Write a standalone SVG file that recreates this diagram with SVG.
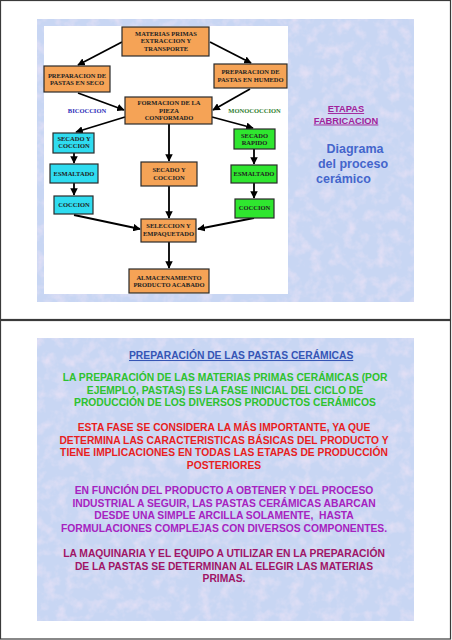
<svg xmlns="http://www.w3.org/2000/svg" width="452" height="640" viewBox="0 0 452 640">
<style>
.frame{fill:#fff;stroke:#3a3a3a;stroke-width:1.2}
.bg{fill:#c8d6f3}
.box{stroke:#2a2a2a;stroke-width:1.2}
.or{fill:#f5a356}
.cy{fill:#2fdcf0}
.gr{fill:#2fe62f}
.nt{font-family:"Liberation Serif","Times New Roman",serif;font-weight:bold;font-size:6.5px;fill:#222;text-anchor:middle}
.edge{stroke:#000;stroke-width:1.8;fill:none;marker-end:url(#ah)}
.sans{font-family:"Liberation Sans",Arial,sans-serif;font-weight:bold}
.p{font-size:10.3px;text-anchor:middle}
</style>
<defs>
<marker id="ah" viewBox="0 0 10 10" refX="9" refY="5" markerWidth="4.2" markerHeight="4.2" orient="auto" markerUnits="strokeWidth">
<path d="M0,0 L10,5 L0,10 z" fill="#000"/>
</marker>
<filter id="tex" x="0" y="0" width="1" height="1">
<feTurbulence type="fractalNoise" baseFrequency="0.09" numOctaves="3" seed="4" result="n"/>
<feColorMatrix in="n" type="matrix" values="0 0 0 0 0.93  0 0 0 0 0.80  0 0 0 0 0.93  0 0 0 -2.2 1.25" result="c"/>
<feComposite in="c" in2="SourceGraphic" operator="in"/>
</filter>
</defs>

<g id="page1">
<rect class="frame" x="0.5" y="0.5" width="450" height="319"/>
<rect class="bg" x="37" y="19" width="377" height="283"/>
<rect x="37" y="19" width="377" height="283" fill="#fff" filter="url(#tex)" opacity="0.55"/>
<rect x="44" y="26" width="244" height="268" fill="#fff"/>
</g>

<g id="page2">
<rect class="frame" x="0.5" y="320.5" width="450" height="318.5"/>
<rect class="bg" x="37" y="338" width="377" height="283"/>
<rect x="37" y="338" width="377" height="283" fill="#fff" filter="url(#tex)" opacity="0.55"/>
</g>

<g id="connectors">
<line class="edge" x1="122" y1="42" x2="78" y2="65"/>
<line class="edge" x1="210" y1="42" x2="251" y2="63"/>
<line class="edge" x1="78" y1="93" x2="124" y2="110"/>
<line class="edge" x1="250" y1="89" x2="213" y2="110"/>
<line class="edge" x1="125" y1="117" x2="76" y2="132"/>
<line class="edge" x1="212" y1="117" x2="253" y2="128"/>
<line class="edge" x1="169" y1="124" x2="169" y2="161"/>
<line class="edge" x1="74" y1="153" x2="74" y2="163"/>
<line class="edge" x1="74" y1="183" x2="74" y2="195"/>
<line class="edge" x1="74" y1="215" x2="140" y2="229"/>
<line class="edge" x1="169" y1="186" x2="169" y2="218"/>
<line class="edge" x1="254" y1="149" x2="254" y2="164"/>
<line class="edge" x1="254" y1="183" x2="254" y2="198"/>
<line class="edge" x1="254" y1="218" x2="198" y2="229"/>
<line class="edge" x1="169" y1="242" x2="169" y2="268"/>
</g>

<g id="n-materias">
<rect class="box or" x="122" y="27" width="87" height="29"/>
<text class="nt" x="166" y="35.5">MATERIAS PRIMAS</text>
<text class="nt" x="166" y="43.3">EXTRACCION Y</text>
<text class="nt" x="166" y="50.8">TRANSPORTE</text>
</g>
<g id="n-seco">
<rect class="box or" x="44" y="66" width="66" height="26"/>
<text class="nt" x="77" y="77.5">PREPARACION DE</text>
<text class="nt" x="77" y="85">PASTAS EN SECO</text>
</g>
<g id="n-humedo">
<rect class="box or" x="214" y="64" width="73" height="24"/>
<text class="nt" x="250.5" y="74">PREPARACION DE</text>
<text class="nt" x="250.5" y="81.5">PASTAS EN HUMEDO</text>
</g>
<g id="n-formacion">
<rect class="box or" x="125" y="97" width="87" height="27"/>
<text class="nt" x="169" y="104.5">FORMACION DE LA</text>
<text class="nt" x="169" y="112.5">PIEZA</text>
<text class="nt" x="169" y="120">CONFORMADO</text>
</g>
<g id="l-bicoccion">
<text x="87" y="113" font-family="Liberation Serif, serif" font-weight="bold" font-size="6.5" fill="#2b2bb8" text-anchor="middle">BICOCCION</text>
</g>
<g id="l-monococcion">
<text x="254.5" y="113" font-family="Liberation Serif, serif" font-weight="bold" font-size="6.5" fill="#2e7d2e" text-anchor="middle">MONOCOCCION</text>
</g>
<g id="n-bi-secado">
<rect class="box cy" x="53" y="133" width="41" height="20"/>
<text class="nt" x="74" y="140.5">SECADO Y</text>
<text class="nt" x="74" y="148">COCCION</text>
</g>
<g id="n-bi-esmaltado">
<rect class="box cy" x="50" y="164" width="48" height="19"/>
<text class="nt" x="74" y="175.5">ESMALTADO</text>
</g>
<g id="n-bi-coccion">
<rect class="box cy" x="54" y="196" width="39" height="18"/>
<text class="nt" x="74" y="206.5">COCCION</text>
</g>
<g id="n-secado-centro">
<rect class="box or" x="141" y="162" width="56" height="24"/>
<text class="nt" x="169" y="172">SECADO Y</text>
<text class="nt" x="169" y="179.5">COCCION</text>
</g>
<g id="n-mono-secado">
<rect class="box gr" x="234" y="129" width="41" height="20"/>
<text class="nt" x="254.5" y="137.5">SECADO</text>
<text class="nt" x="254.5" y="145">RAPIDO</text>
</g>
<g id="n-mono-esmaltado">
<rect class="box gr" x="231" y="165" width="46" height="18"/>
<text class="nt" x="254" y="175.5">ESMALTADO</text>
</g>
<g id="n-mono-coccion">
<rect class="box gr" x="235" y="199" width="39" height="19"/>
<text class="nt" x="254.5" y="210">COCCION</text>
</g>
<g id="n-seleccion">
<rect class="box or" x="141" y="219" width="55" height="23"/>
<text class="nt" x="168.5" y="228">SELECCION Y</text>
<text class="nt" x="168.5" y="235.5">EMPAQUETADO</text>
</g>
<g id="n-almacen">
<rect class="box or" x="129" y="269" width="80" height="24"/>
<text class="nt" x="169" y="279.5">ALMACENAMIENTO</text>
<text class="nt" x="169" y="287">PRODUCTO ACABADO</text>
</g>

<g id="side-text" class="sans">
<text x="346" y="112" font-size="9.3" fill="#a0229a" text-anchor="middle" text-decoration="underline">ETAPAS</text>
<text x="346" y="123.5" font-size="9.3" fill="#a0229a" text-anchor="middle" text-decoration="underline">FABRICACION</text>
<text x="355" y="153" font-size="12.5" fill="#4466cc" text-anchor="middle">Diagrama</text>
<text x="353" y="168" font-size="12.5" fill="#4466cc" text-anchor="middle">del proceso</text>
<text x="316" y="183" font-size="12.5" fill="#4466cc">cerámico</text>
</g>

<g id="page2-text" class="sans">
<text x="129" y="359" font-size="10.3" fill="#3555b5" text-decoration="underline">PREPARACIÓN DE LAS PASTAS CERÁMICAS</text>
<g class="p" fill="#2ec22e">
<text x="225" y="381">LA PREPARACIÓN DE LAS MATERIAS PRIMAS CERÁMICAS (POR</text>
<text x="225" y="393.5">EJEMPLO, PASTAS) ES LA FASE INICIAL DEL CICLO DE</text>
<text x="225" y="406">PRODUCCIÓN DE LOS DIVERSOS PRODUCTOS CERÁMICOS</text>
</g>
<g class="p" fill="#e81e1e">
<text x="224" y="431">ESTA FASE SE CONSIDERA LA MÁS IMPORTANTE, YA QUE</text>
<text x="224" y="443.5">DETERMINA LAS CARACTERISTICAS BÁSICAS DEL PRODUCTO Y</text>
<text x="224" y="456">TIENE IMPLICACIONES EN TODAS LAS ETAPAS DE PRODUCCIÓN</text>
<text x="224" y="468.5">POSTERIORES</text>
</g>
<g class="p" fill="#a622c0">
<text x="224" y="494">EN FUNCIÓN DEL PRODUCTO A OBTENER Y DEL PROCESO</text>
<text x="224" y="506.5">INDUSTRIAL A SEGUIR, LAS PASTAS CERÁMICAS ABARCAN</text>
<text x="224" y="519" xml:space="preserve">DESDE UNA SIMPLE ARCILLA SOLAMENTE,  HASTA</text>
<text x="224" y="531.5">FORMULACIONES COMPLEJAS CON DIVERSOS COMPONENTES.</text>
</g>
<g class="p" fill="#a01466">
<text x="224" y="557">LA MAQUINARIA Y EL EQUIPO A UTILIZAR EN LA PREPARACIÓN</text>
<text x="224" y="569.5">DE LA PASTAS SE DETERMINAN AL ELEGIR LAS MATERIAS</text>
<text x="224" y="582">PRIMAS.</text>
</g>
</g>
</svg>
